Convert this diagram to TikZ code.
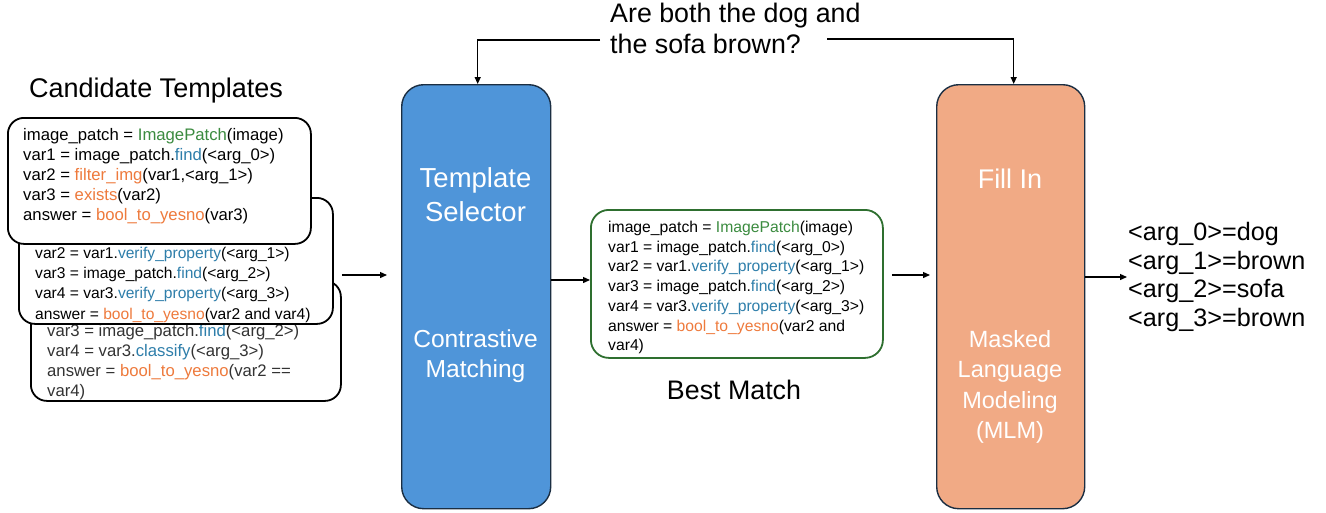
\documentclass[tikz,border=0pt]{standalone}
\usepackage{fontspec}
\setmainfont{Liberation Sans}
\usetikzlibrary{arrows.meta}
\definecolor{selblue}{HTML}{4F95D9}
\definecolor{fillorange}{HTML}{F1AA85}
\definecolor{edgenavy}{HTML}{1B2E42}
\definecolor{matchgreen}{HTML}{2E6F2F}
\definecolor{codegreen}{HTML}{3B8B3F}
\definecolor{codeblue}{HTML}{2E7EAA}
\definecolor{codeorange}{HTML}{EE7A3C}
\definecolor{codegray}{HTML}{333333}
\newcommand\kgreen[1]{\textcolor{codegreen}{#1}}
\newcommand\kblue[1]{\textcolor{codeblue}{#1}}
\newcommand\korange[1]{\textcolor{codeorange}{#1}}
\begin{document}
\begin{tikzpicture}[x=1pt,y=-1pt,
  tbox/.style={draw=black, line width=1.8pt, fill=white, rounded corners=16pt, anchor=north west, inner sep=0pt},
  code/.style={anchor=north west, inner sep=0pt, align=left, font=\fontsize{16.7}{20}\selectfont},
  bigbox/.style={draw=edgenavy, line width=1.4pt, rounded corners=22pt, anchor=north west, inner sep=0pt, minimum width=149pt, minimum height=424pt},
  boxtext/.style={text=white, align=center, inner sep=0pt},
  label/.style={inner sep=0pt, font=\fontsize{26.8}{31}\selectfont},
  arr/.style={-{Triangle[length=7pt,width=6pt]}, line width=1.3pt}
]
\useasboundingbox (0,0) rectangle (1326,512);

% candidate template stack
\node[label, anchor=west, font=\fontsize{27}{31}\selectfont] (cand) at (29,91) {Candidate Templates};

\node[tbox, minimum width=310pt, minimum height=120pt] (t3) at (30,280) {};
\node[code, text=codegray] (t3txt) at (47,324) {var3 = image\_patch.\kblue{find}(<arg\_2>)\\
var4 = var3.\kblue{classify}(<arg\_3>)\\
answer = \korange{bool\_to\_yesno}(var2 ==\\
var4)};

\node[tbox, minimum width=314pt, minimum height=126pt] (t2) at (18,197) {};
\node[code, font=\fontsize{15.6}{20.2}\selectfont] (t2txt) at (35,247) {var2 = var1.\kblue{verify\_property}(<arg\_1>)\\
var3 = image\_patch.\kblue{find}(<arg\_2>)\\
var4 = var3.\kblue{verify\_property}(<arg\_3>)\\
answer = \korange{bool\_to\_yesno}(var2 and var4)};

\node[tbox, minimum width=303pt, minimum height=126pt] (t1) at (7,117) {};
\node[code] (t1txt) at (23,128) {image\_patch = \kgreen{ImagePatch}(image)\\
var1 = image\_patch.\kblue{find}(<arg\_0>)\\
var2 = \korange{filter\_img}(var1,<arg\_1>)\\
var3 = \korange{exists}(var2)\\
answer = \korange{bool\_to\_yesno}(var3)};

% template selector
\node[bigbox, fill=selblue] (sel) at (401,84) {};
\node[boxtext, font=\fontsize{27.5}{34}\selectfont] (selt) at (475.5,195) {Template\\Selector};
\node[boxtext, font=\fontsize{24.6}{30}\selectfont] (selc) at (475.5,356) {Contrastive\\Matching};

% best match
\node[draw=matchgreen, line width=1.8pt, rounded corners=18pt, anchor=north west, inner sep=0pt, minimum width=292pt, minimum height=148pt] (best) at (590,209) {};
\node[code, font=\fontsize{15.7}{19.7}\selectfont] (besttxt) at (608,221) {image\_patch = \kgreen{ImagePatch}(image)\\
var1 = image\_patch.\kblue{find}(<arg\_0>)\\
var2 = var1.\kblue{verify\_property}(<arg\_1>)\\
var3 = image\_patch.\kblue{find}(<arg\_2>)\\
var4 = var3.\kblue{verify\_property}(<arg\_3>)\\
answer = \korange{bool\_to\_yesno}(var2 and\\
var4)};
\node[label] (bestlab) at (734,390) {Best Match};

% fill in
\node[bigbox, fill=fillorange, minimum width=148pt] (fill) at (936,84) {};
\node[boxtext, font=\fontsize{27}{34}\selectfont] (fillt) at (1010,179) {Fill In};
\node[boxtext, font=\fontsize{23.5}{30.5}\selectfont] (fillm) at (1010,387) {Masked\\Language\\Modeling\\(MLM)};

% question
\node[label, anchor=north west, align=left] (q) at (610,3) {Are both the dog and\\the sofa brown?};
\coordinate (qL) at (600,40);
\coordinate (qR) at (827,39);

% arguments
\node[label, anchor=west, align=left, font=\fontsize{25.2}{28.5}\selectfont] (args) at (1128,277) {<arg\_0>=dog\\<arg\_1>=brown\\<arg\_2>=sofa\\<arg\_3>=brown};

% connectors
\draw[arr] (qL) -| ([xshift=1.5pt]sel.north) ;
\draw[arr] (qR) -| ([xshift=3pt]fill.north);
\draw[arr] (t3.east |- 0,275) -- ([xshift=-14pt]sel.west |- 0,275);
\draw[arr] (sel.east |- 0,280) -- (best.west |- 0,280);
\draw[arr] ([xshift=8pt]best.east |- 0,275) -- ([xshift=-6pt]fill.west |- 0,275);
\draw[arr] (fill.east |- 0,277) -- ([xshift=-1pt]args.west |- 0,277);
\end{tikzpicture}
\end{document}
